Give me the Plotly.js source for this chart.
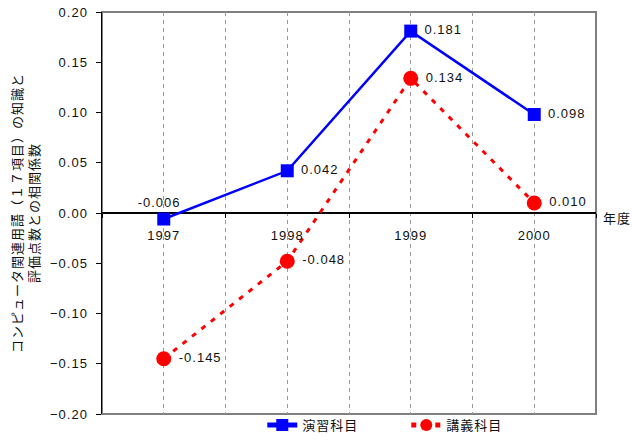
<!DOCTYPE html>
<html>
<head>
<meta charset="utf-8">
<script src="https://cdn.plot.ly/plotly-3.0.1.min.js"></script>
<style>
  html, body { margin: 0; padding: 0; background: #fff; }
  #chart { width: 632px; height: 440px; }
  #chart text { letter-spacing: 1px; }
</style>
</head>
<body>
<div id="chart"></div>
<script>
// School years on the category axis
const years = ['1997', '1998', '1999', '2000'];
const yearIndex = [0, 1, 2, 3];

// Correlation coefficients per course type
const seriesNames = ['演習科目', '講義科目'];
const exerciseValues = [-0.006, 0.042, 0.181, 0.098];
const lectureValues = [-0.145, -0.048, 0.134, 0.010];

const FONT = '"Liberation Sans", Arial, "Noto Sans CJK JP", sans-serif';
const NBSP = '\u00a0';

// value labels: a small gap before labels sitting to the right of a marker
const fmt = v => v.toFixed(3);
const rightLabel = v => NBSP + fmt(v);

const exercise = {
  type: 'scatter',
  mode: 'lines+markers+text',
  name: seriesNames[0],
  x: yearIndex,
  y: exerciseValues,
  text: exerciseValues.map((v, i) => i === 0 ? fmt(v) + NBSP + NBSP : rightLabel(v)),
  textposition: ['top center', 'middle right', 'middle right', 'middle right'],
  textfont: { family: FONT, size: 13, color: '#111' },
  line: { color: '#0000ff', width: 2.5 },
  marker: { symbol: 'square', size: 13, color: '#0000ff' },
  cliponaxis: false
};

const lecture = {
  type: 'scatter',
  mode: 'lines+markers+text',
  name: seriesNames[1],
  x: yearIndex,
  y: lectureValues,
  text: lectureValues.map(rightLabel),
  textposition: 'middle right',
  textfont: { family: FONT, size: 13, color: '#111' },
  line: { color: '#ff0000', width: 3, dash: '5px,7px' },
  marker: { symbol: 'circle', size: 15, color: '#ff0000' },
  cliponaxis: false
};

const layout = {
  width: 632,
  height: 440,
  margin: { l: 102, r: 36, t: 12, b: 26, autoexpand: false },
  paper_bgcolor: '#fff',
  plot_bgcolor: '#fff',
  font: { family: FONT, size: 13, color: '#111' },
  showlegend: true,
  legend: {
    orientation: 'h',
    xref: 'container', yref: 'container',
    x: 0.415, xanchor: 'left',
    y: -0.035, yanchor: 'bottom',
    entrywidth: 99,
    itemsizing: 'constant',
    font: { family: FONT, size: 13, color: '#111' },
    bgcolor: 'rgba(0,0,0,0)'
  },
  xaxis: {
    type: 'linear',
    range: [-0.5, 3.5],
    tickvals: yearIndex,
    ticktext: years,
    anchor: 'free',
    position: 0.5,
    showline: false,
    ticks: '',
    ticklabelstandoff: 13,
    showgrid: true,
    gridcolor: '#999',
    gridwidth: 1,
    griddash: '4px,4px',
    minor: {
      tick0: 0.5, dtick: 1,
      showgrid: true, gridcolor: '#999', gridwidth: 1, griddash: '4px,4px',
      ticks: 'outside', ticklen: 4, tickcolor: '#000'
    },
    zeroline: false,
    automargin: false,
    fixedrange: true
  },
  yaxis: {
    range: [-0.2, 0.2],
    tick0: 0, dtick: 0.05,
    tickformat: '.2f',
    showgrid: false,
    showline: true,
    linecolor: '#000',
    linewidth: 1.5,
    ticks: 'outside',
    ticklen: 5,
    tickcolor: '#000',
    ticklabelstandoff: 5,
    zeroline: true,
    zerolinecolor: '#000',
    zerolinewidth: 1.5,
    title: {
      text: 'コンピュータ関連用語（１７項目）の知識と<br>評価点数との相関係数',
      font: { family: FONT, size: 13, color: '#111' },
      standoff: 12
    },
    automargin: false,
    fixedrange: true
  },
  shapes: [{
    type: 'rect', xref: 'paper', yref: 'paper',
    x0: 0, x1: 1, y0: 0, y1: 1,
    line: { color: '#808080', width: 2 },
    layer: 'below'
  }],
  annotations: [{
    text: '年度',
    xref: 'paper', yref: 'y',
    x: 1.012, y: 0,
    xanchor: 'left', yanchor: 'middle',
    yshift: -5,
    showarrow: false,
    font: { family: FONT, size: 13, color: '#111' }
  }]
};

Plotly.newPlot('chart', [exercise, lecture], layout, { displayModeBar: false, staticPlot: true });
</script>
</body>
</html>
